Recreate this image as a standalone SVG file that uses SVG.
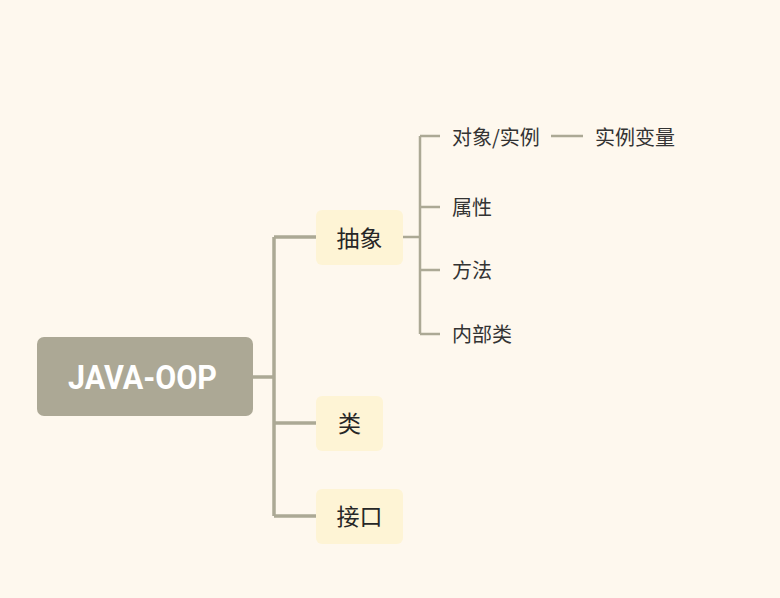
<svg xmlns="http://www.w3.org/2000/svg" width="780" height="598" viewBox="0 0 780 598">
<style>
.bg{fill:#fef8ee}
.main{fill:none;stroke:#aca995;stroke-width:3.5}
.sub{fill:none;stroke:#aca995;stroke-width:2.5}
.root{fill:#aca895}
.topic{fill:#fef4d5}
.rt{font-family:Roboto,"Liberation Sans",sans-serif;font-weight:bold;font-size:33px;fill:#ffffff}
.tt{font-family:"Noto Sans CJK SC","Noto Sans",sans-serif;font-size:23px;fill:#262626}
.st{font-family:"Noto Sans CJK SC","Noto Sans",sans-serif;font-size:20px;fill:#333333}
</style>
<rect class="bg" x="0" y="0" width="780" height="598"/>
<g id="connectors">
<path class="main" d="M252 377 H274 M274 237 V516 M274 237 H316 M274 423 H316 M274 516 H316"/>
<path class="sub" d="M402 237 H420 M420 136 V334 M420 136 H440 M420 207 H440 M420 270 H440 M420 334 H440 M551 136 H583"/>
</g>
<g id="root">
<rect class="root" x="37" y="337" width="216" height="79" rx="7"/>
<text class="rt" x="68" y="389" textLength="149" lengthAdjust="spacingAndGlyphs">JAVA-OOP</text>
</g>
<g id="n-chouxiang">
<rect class="topic" x="316" y="210" width="87" height="55" rx="6"/>
<text class="tt" x="359.5" y="246.5" text-anchor="middle">抽象</text>
</g>
<g id="n-lei">
<rect class="topic" x="316" y="396" width="67" height="55" rx="6"/>
<text class="tt" x="349.5" y="432" text-anchor="middle">类</text>
</g>
<g id="n-jiekou">
<rect class="topic" x="316" y="489" width="87" height="55" rx="6"/>
<text class="tt" x="359.5" y="525" text-anchor="middle">接口</text>
</g>
<g id="n-duixiang"><text class="st" x="452" y="144.5">对象/实例</text></g>
<g id="n-shilibianliang"><text class="st" x="595" y="144.5">实例变量</text></g>
<g id="n-shuxing"><text class="st" x="452" y="215">属性</text></g>
<g id="n-fangfa"><text class="st" x="452" y="278">方法</text></g>
<g id="n-neibulei"><text class="st" x="452" y="342">内部类</text></g>
</svg>
